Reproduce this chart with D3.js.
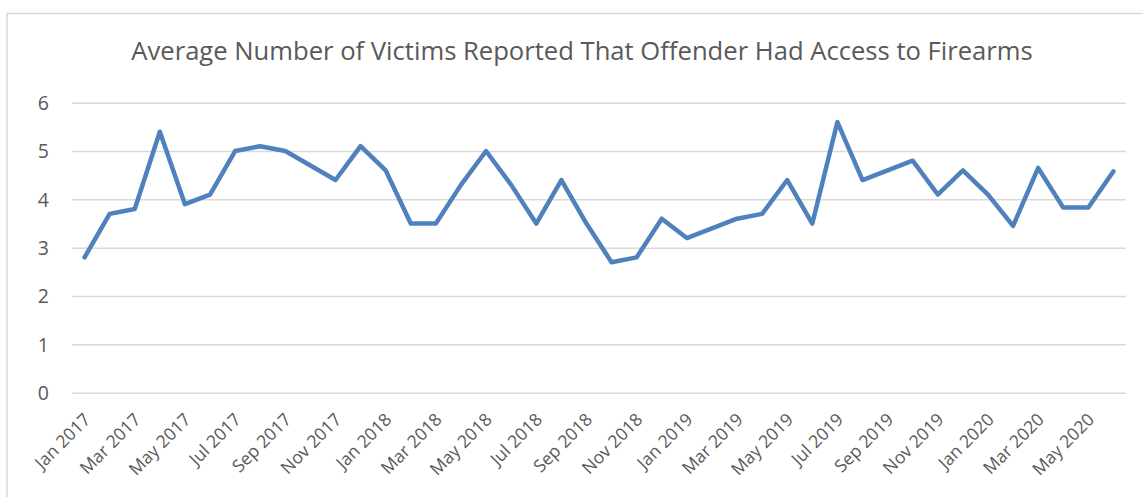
<!DOCTYPE html>
<html>
<head>
<meta charset="utf-8">
<script src="https://cdn.jsdelivr.net/npm/d3@7"></script>
<style>
  html, body { margin: 0; padding: 0; background: #ffffff; }
  svg { display: block; }
</style>
</head>
<body>
<svg id="chart" width="1143" height="497"></svg>
<script>
const title = "Average Number of Victims Reported That Offender Had Access to Firearms";
const months = [
  "Jan 2017","Feb 2017","Mar 2017","Apr 2017","May 2017","Jun 2017","Jul 2017","Aug 2017","Sep 2017","Oct 2017","Nov 2017","Dec 2017",
  "Jan 2018","Feb 2018","Mar 2018","Apr 2018","May 2018","Jun 2018","Jul 2018","Aug 2018","Sep 2018","Oct 2018","Nov 2018","Dec 2018",
  "Jan 2019","Feb 2019","Mar 2019","Apr 2019","May 2019","Jun 2019","Jul 2019","Aug 2019","Sep 2019","Oct 2019","Nov 2019","Dec 2019",
  "Jan 2020","Feb 2020","Mar 2020","Apr 2020","May 2020","Jun 2020"
];
const values = [
  2.8, 3.7, 3.8, 5.4, 3.9, 4.1, 5.0, 5.1, 5.0, 4.7, 4.4, 5.1,
  4.6, 3.5, 3.5, 4.3, 5.0, 4.3, 3.5, 4.4, 3.5, 2.7, 2.8, 3.6,
  3.2, 3.4, 3.6, 3.7, 4.4, 3.5, 5.6, 4.4, 4.6, 4.8, 4.1, 4.6,
  4.1, 3.45, 4.65, 3.83, 3.83, 4.58
];
const yTicks = [0, 1, 2, 3, 4, 5, 6];
const xTickLabels = months.filter((m, i) => i % 2 === 0);

const svg = d3.select("#chart");
const W = 1143, H = 497;
const plot = { left: 72, right: 1126, top: 102.7, bottom: 392.7 };

const textColor = "#595959";
const gridColor = "#d9d9d9";
const lineColor = "#4f81bd";
const font = "'Open Sans', 'Noto Sans', sans-serif";

// chart border
svg.append("rect")
  .attr("x", 7).attr("y", 13.5)
  .attr("width", W + 20).attr("height", H + 20)
  .attr("fill", "none").attr("stroke", gridColor).attr("stroke-width", 1.5);

const x = d3.scaleBand().domain(months).range([plot.left, plot.right]).paddingInner(0).paddingOuter(0);
const y = d3.scaleLinear().domain([0, 6]).range([plot.bottom, plot.top]);

// gridlines + y labels
const yAxis = d3.axisLeft(y).tickValues(yTicks).tickSize(-(plot.right - plot.left)).tickFormat(d3.format("d")).tickPadding(23);
const gy = svg.append("g").attr("transform", `translate(${plot.left},0)`).call(yAxis);
gy.select(".domain").remove();
gy.selectAll(".tick line").attr("stroke", gridColor).attr("stroke-width", 1.5);
gy.selectAll(".tick text")
  .attr("fill", textColor)
  .style("font-family", font).style("font-size", "19.5px")
  .attr("dy", "0.35em");

// x axis labels
const xAxis = d3.axisBottom(x).tickValues(xTickLabels).tickSize(0).tickPadding(0);
const gx = svg.append("g").attr("transform", `translate(0,${plot.bottom})`).call(xAxis);
gx.select(".domain").remove();
gx.selectAll(".tick text")
  .attr("fill", textColor)
  .style("font-family", font).style("font-size", "17.5px")
  .attr("text-anchor", "end")
  .attr("dy", 0)
  .attr("y", 0)
  .attr("transform", "translate(7,28) rotate(-45)");

// line
const line = d3.line()
  .x((d, i) => x(months[i]) + x.bandwidth() / 2)
  .y(d => y(d));
svg.append("path")
  .datum(values)
  .attr("d", line)
  .attr("fill", "none")
  .attr("stroke", lineColor)
  .attr("stroke-width", 4.5)
  .attr("stroke-linejoin", "round")
  .attr("stroke-linecap", "round");

// title
const t = svg.append("text")
  .attr("x", 582).attr("y", 60)
  .attr("text-anchor", "middle")
  .attr("fill", textColor)
  .style("font-family", font)
  .style("font-size", "24px")
  .text(title);
const targetW = 902;
const w0 = t.node().getComputedTextLength();
t.style("font-size", (24 * targetW / w0) + "px");
</script>
</body>
</html>
